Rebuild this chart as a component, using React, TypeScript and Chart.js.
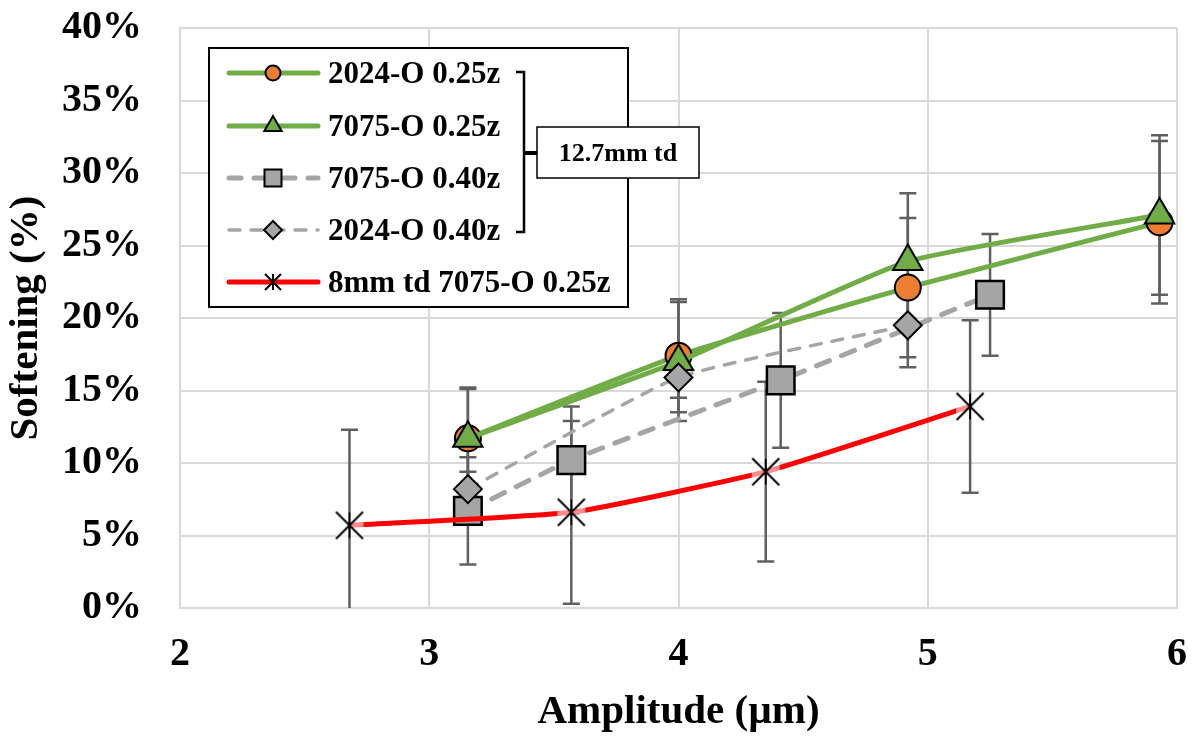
import React, { useEffect, useRef } from 'react';
import { Chart, registerables } from 'chart.js';

Chart.register(...registerables);

// ---------- data ----------
const seriesNames = ['2024-O 0.25z', '7075-O 0.25z', '7075-O 0.40z', '2024-O 0.40z', '8mm td 7075-O 0.25z'];
const bracketLabel = '12.7mm td';
const xAxisTitle = 'Amplitude (µm)';
const yAxisTitle = 'Softening (%)';
const xTickValues = [2, 3, 4, 5, 6];
const yTickValues = [0, 5, 10, 15, 20, 25, 30, 35, 40];

const amp2024_025 = [3.155, 4.0, 4.92, 5.93];
const soft2024_025 = [11.7, 17.4, 22.1, 26.6];
const err2024_025 = [3.5, 3.9, 4.8, 5.6];

const amp7075_025 = [3.155, 4.0, 4.92, 5.93];
const soft7075_025 = [11.7, 17.0, 23.9, 27.1];
const err7075_025 = [3.4, 4.1, 4.7, 5.5];

const amp7075_040 = [3.155, 3.57, 4.41, 5.25];
const soft7075_040 = [6.7, 10.2, 15.7, 21.6];
const err7075_040 = [3.7, 3.7, 4.65, 4.2];

const amp2024_040 = [3.155, 4.0, 4.92];
const soft2024_040 = [8.2, 15.9, 19.5];
const err2024_040 = [1.2, 1.4, 2.9];

const amp8mm = [2.68, 3.57, 4.35, 5.17];
const soft8mm = [5.7, 6.6, 9.4, 13.9];
const err8mm = [6.6, 6.3, 6.2, 5.95];

// ---------- styles ----------
const GREEN = '#70AD47';
const ORANGE = '#ED7D31';
const GRAY = '#A5A5A5';
const RED = '#FF0000';
const ERR = '#606060';
const GRID = '#D9D9D9';
const FONT = '"Liberation Serif", "Times New Roman", serif';

const toPoints = (xs: number[], ys: number[]) => xs.map((x, i) => ({ x, y: ys[i] }));

function drawStar(ctx: CanvasRenderingContext2D, cx: number, cy: number, half: number, lw: number) {
  ctx.save();
  ctx.strokeStyle = '#000';
  ctx.lineWidth = lw;
  ctx.beginPath();
  ctx.moveTo(cx - half, cy - half);
  ctx.lineTo(cx + half, cy + half);
  ctx.moveTo(cx + half, cy - half);
  ctx.lineTo(cx - half, cy + half);
  ctx.moveTo(cx, cy - half);
  ctx.lineTo(cx, cy + half);
  ctx.stroke();
  ctx.restore();
}

function makeStarCanvas(size: number) {
  const c = document.createElement('canvas');
  c.width = size;
  c.height = size;
  const ctx = c.getContext('2d')!;
  ctx.fillStyle = 'rgba(255,255,255,0.55)';
  ctx.fillRect(1, 1, size - 2, size - 2);
  drawStar(ctx, size / 2, size / 2, size / 2 - 1.5, 2);
  return c;
}

function drawMarker(ctx: CanvasRenderingContext2D, style: string, x: number, y: number, fill: string) {
  ctx.save();
  ctx.fillStyle = fill;
  ctx.strokeStyle = '#000';
  ctx.lineWidth = 2;
  ctx.setLineDash([]);
  ctx.beginPath();
  if (style === 'circle') {
    ctx.arc(x, y, 7.5, 0, Math.PI * 2);
  } else if (style === 'triangle') {
    const r = 10;
    ctx.moveTo(x, y - r);
    ctx.lineTo(x + r * 0.866, y + r / 2);
    ctx.lineTo(x - r * 0.866, y + r / 2);
    ctx.closePath();
  } else if (style === 'rect') {
    ctx.rect(x - 8.5, y - 8.5, 17, 17);
  } else if (style === 'rectRot') {
    const r = 9;
    ctx.moveTo(x - r, y);
    ctx.lineTo(x, y - r);
    ctx.lineTo(x + r, y);
    ctx.lineTo(x, y + r);
    ctx.closePath();
  }
  if (style === 'star') {
    ctx.restore();
    drawStar(ctx, x, y, 8, 2);
    return;
  }
  ctx.fill();
  ctx.stroke();
  ctx.restore();
}

const errorBarPlugin = {
  id: 'errorBars',
  beforeDatasetsDraw(chart: any) {
    const { ctx, chartArea, scales } = chart;
    const xs = scales.x;
    const ys = scales.y;
    ctx.save();
    ctx.beginPath();
    ctx.rect(chartArea.left, chartArea.top, chartArea.right - chartArea.left, chartArea.bottom - chartArea.top);
    ctx.clip();
    ctx.strokeStyle = ERR;
    ctx.lineWidth = 2.5;
    chart.data.datasets.forEach((ds: any) => {
      const errs: number[] = ds.errors || [];
      ds.data.forEach((p: any, i: number) => {
        const e = errs[i];
        if (e == null) return;
        const px = xs.getPixelForValue(p.x);
        const top = ys.getPixelForValue(p.y + e);
        const bot = ys.getPixelForValue(p.y - e);
        ctx.beginPath();
        ctx.moveTo(px, top);
        ctx.lineTo(px, bot);
        ctx.moveTo(px - 8.5, top);
        ctx.lineTo(px + 8.5, top);
        ctx.moveTo(px - 8.5, bot);
        ctx.lineTo(px + 8.5, bot);
        ctx.stroke();
      });
    });
    ctx.restore();
  },
};

const legendPlugin = {
  id: 'customLegend',
  afterDraw(chart: any) {
    const { ctx } = chart;
    ctx.save();
    // legend box
    ctx.fillStyle = '#fff';
    ctx.fillRect(209, 48, 419, 259);
    ctx.strokeStyle = '#000';
    ctx.lineWidth = 2;
    ctx.strokeRect(209, 48, 419, 259);

    const rows = [73, 126, 178, 230, 282];
    chart.data.datasets.forEach((ds: any, i: number) => {
      const y = rows[i];
      ctx.save();
      ctx.strokeStyle = ds.borderColor;
      ctx.lineWidth = ds.borderWidth;
      ctx.lineCap = 'round';
      ctx.setLineDash(ds.borderDash || []);
      ctx.lineDashOffset = ds.legendDashOffset || 0;
      ctx.beginPath();
      ctx.moveTo(229, y);
      ctx.lineTo(318, y);
      ctx.stroke();
      ctx.restore();
      drawMarker(ctx, ds.legendMarker, 273, y, ds.pointBackgroundColor);
      ctx.fillStyle = '#000';
      ctx.font = `bold 31px ${FONT}`;
      ctx.textAlign = 'left';
      ctx.textBaseline = 'middle';
      ctx.fillText(ds.label, 328, y + 2);
    });

    // bracket
    ctx.strokeStyle = '#000';
    ctx.lineWidth = 2.5;
    ctx.beginPath();
    ctx.moveTo(516, 72);
    ctx.lineTo(524, 72);
    ctx.lineTo(524, 232);
    ctx.lineTo(516, 232);
    ctx.stroke();
    ctx.lineWidth = 4;
    ctx.beginPath();
    ctx.moveTo(524, 153);
    ctx.lineTo(538, 153);
    ctx.stroke();

    // bracket label box
    ctx.fillStyle = '#fff';
    ctx.fillRect(537, 127, 162, 51);
    ctx.lineWidth = 1.5;
    ctx.strokeRect(537, 127, 162, 51);
    ctx.fillStyle = '#000';
    ctx.font = `bold 26px ${FONT}`;
    ctx.textAlign = 'center';
    ctx.textBaseline = 'middle';
    ctx.fillText(bracketLabel, 618, 154);
    ctx.restore();
  },
};

export default function App() {
  const ref = useRef<HTMLCanvasElement>(null);

  useEffect(() => {
    if (!ref.current) return;
    const star = makeStarCanvas(30);
    const chart = new Chart(ref.current, {
      type: 'line',
      data: {
        datasets: [
          {
            label: seriesNames[0],
            data: toPoints(amp2024_025, soft2024_025),
            errors: err2024_025,
            borderColor: GREEN,
            borderWidth: 5,
            pointStyle: 'circle',
            pointRadius: 13,
            pointBackgroundColor: ORANGE,
            pointBorderColor: '#000',
            pointBorderWidth: 2,
            legendMarker: 'circle',
            order: 4,
          } as any,
          {
            label: seriesNames[1],
            data: toPoints(amp7075_025, soft7075_025),
            errors: err7075_025,
            borderColor: GREEN,
            borderWidth: 5,
            pointStyle: 'triangle',
            pointRadius: 17,
            pointBackgroundColor: GREEN,
            pointBorderColor: '#000',
            pointBorderWidth: 2,
            legendMarker: 'triangle',
            order: 3,
          } as any,
          {
            label: seriesNames[2],
            data: toPoints(amp7075_040, soft7075_040),
            errors: err7075_040,
            borderColor: GRAY,
            borderWidth: 5,
            borderDash: [14, 13],
            borderCapStyle: 'round',
            pointStyle: 'rect',
            pointRadius: 19.5,
            pointBackgroundColor: GRAY,
            pointBorderColor: '#000',
            pointBorderWidth: 2.5,
            legendMarker: 'rect',
            legendDashOffset: 2,
            order: 2,
          } as any,
          {
            label: seriesNames[3],
            data: toPoints(amp2024_040, soft2024_040),
            errors: err2024_040,
            borderColor: GRAY,
            borderWidth: 3.5,
            borderDash: [11, 11],
            borderCapStyle: 'round',
            pointStyle: 'rectRot',
            pointRadius: 14,
            pointBackgroundColor: GRAY,
            pointBorderColor: '#000',
            pointBorderWidth: 2,
            legendMarker: 'rectRot',
            order: 1,
          } as any,
          {
            label: seriesNames[4],
            data: toPoints(amp8mm, soft8mm),
            errors: err8mm,
            borderColor: RED,
            borderWidth: 5,
            pointStyle: star,
            pointRadius: 15,
            pointBackgroundColor: 'rgba(0,0,0,0)',
            legendMarker: 'star',
            order: 0,
          } as any,
        ],
      },
      options: {
        animation: false,
        responsive: false,
        maintainAspectRatio: false,
        layout: { autoPadding: false, padding: { top: 28, right: 16, left: 0, bottom: 0 } },
        elements: { line: { tension: 0.15 } },
        plugins: {
          legend: { display: false },
          tooltip: { enabled: false },
        },
        scales: {
          x: {
            type: 'linear',
            min: xTickValues[0],
            max: xTickValues[xTickValues.length - 1],
            afterBuildTicks: (s: any) => {
              s.ticks = xTickValues.map((v) => ({ value: v }));
            },
            afterFit: (s: any) => {
              s.height = 130;
              s.paddingLeft = 0;
              s.paddingRight = 0;
            },
            grid: { color: GRID, lineWidth: 2, drawTicks: true, tickLength: 23, tickColor: 'rgba(0,0,0,0)' },
            border: { color: GRID, width: 2 },
            ticks: {
              padding: 0,
              color: '#000',
              font: { family: FONT, size: 40, weight: 'bold' },
              callback: (v: any) => String(v),
            },
            title: {
              display: true,
              text: xAxisTitle,
              color: '#000',
              font: { family: FONT, size: 41, weight: 'bold' },
              padding: { top: 0, bottom: 1 },
            },
          },
          y: {
            type: 'linear',
            min: yTickValues[0],
            max: yTickValues[yTickValues.length - 1],
            afterBuildTicks: (s: any) => {
              s.ticks = yTickValues.map((v) => ({ value: v }));
            },
            afterFit: (s: any) => {
              s.width = 180;
              s.paddingTop = 0;
              s.paddingBottom = 0;
            },
            grid: { color: GRID, lineWidth: 2, drawTicks: true, tickLength: 38, tickColor: 'rgba(0,0,0,0)' },
            border: { color: GRID, width: 2 },
            ticks: {
              padding: 0,
              color: '#000',
              font: { family: FONT, size: 40, weight: 'bold' },
              callback: (v: any) => `${v}%`,
            },
            title: {
              display: true,
              text: yAxisTitle,
              color: '#000',
              font: { family: FONT, size: 41, weight: 'bold' },
              padding: { top: 2, bottom: 0 },
            },
          },
        },
      } as any,
      plugins: [errorBarPlugin, legendPlugin],
    });
    return () => chart.destroy();
  }, []);

  return (
    <div style={{ position: 'fixed', left: 0, top: 0, width: 1193, height: 738, background: '#fff' }}>
      <canvas ref={ref} width={1193} height={738} style={{ width: 1193, height: 738, display: 'block' }} />
    </div>
  );
}
